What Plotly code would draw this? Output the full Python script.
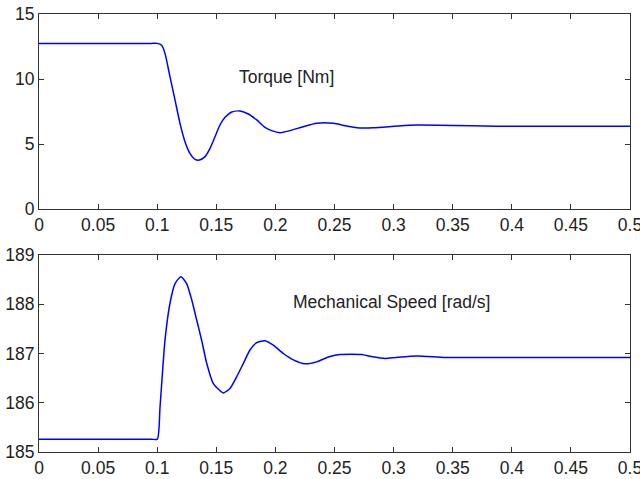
import plotly.graph_objects as go
from plotly.subplots import make_subplots

# torque response [Nm]
t_torque = [0, 0.05, 0.095, 0.1, 0.1038, 0.1066, 0.1108, 0.1151, 0.1193, 0.1235, 0.1277, 0.132,
            0.1357, 0.1404, 0.1447, 0.1489, 0.1531, 0.1574, 0.163, 0.1701, 0.1771,
            0.1842, 0.1912, 0.1968, 0.2039, 0.2123, 0.2236, 0.2349, 0.249, 0.2603,
            0.269, 0.283, 0.303, 0.3195, 0.4, 0.5]
torque = [12.74, 12.74, 12.74, 12.74, 12.6, 11.97, 10.18, 8.38, 6.59, 5.18, 4.28, 3.82,
          3.77, 4.03, 4.67, 5.56, 6.46, 7.05, 7.46, 7.54, 7.31,
          6.85, 6.28, 6.03, 5.87, 6.03, 6.33, 6.59, 6.59, 6.38,
          6.25, 6.25, 6.38, 6.46, 6.36, 6.36]

# mechanical speed [rad/s]
t_speed = [0, 0.05, 0.095, 0.1001, 0.1024, 0.1066, 0.1108, 0.1151, 0.1201, 0.1249, 0.1292,
           0.1334, 0.1376, 0.1419, 0.1475, 0.1559, 0.1616, 0.1673, 0.1729,
           0.1785, 0.1842, 0.1912, 0.1982, 0.2067, 0.2152, 0.225, 0.2349,
           0.2462, 0.2547, 0.273, 0.281, 0.293, 0.302, 0.32, 0.344, 0.4, 0.5]
speed = [185.26, 185.26, 185.26, 185.26, 185.92, 187.27, 188.02, 188.42, 188.56, 188.42, 188.09,
         187.68, 187.27, 186.80, 186.39, 186.20, 186.29, 186.53, 186.80,
         187.07, 187.22, 187.26, 187.17, 187.00, 186.87, 186.79, 186.83,
         186.94, 186.98, 186.98, 186.94, 186.90, 186.92, 186.95, 186.92, 186.92, 186.92]

x_ticks = [0, 0.05, 0.1, 0.15, 0.2, 0.25, 0.3, 0.35, 0.4, 0.45, 0.5]
x_labels = ["0", "0.05", "0.1", "0.15", "0.2", "0.25", "0.3", "0.35", "0.4", "0.45", "0.5"]

font = dict(family="Liberation Sans, Arial", size=17.5, color="#222222")

fig = make_subplots(rows=2, cols=1)
line = dict(color="#0000ff", width=1.5, shape="spline", smoothing=0.6)
fig.add_trace(go.Scatter(x=t_torque, y=torque, mode="lines", line=line), row=1, col=1)
fig.add_trace(go.Scatter(x=t_speed, y=speed, mode="lines", line=line), row=2, col=1)

axis_style = dict(showline=True, linecolor="#333333", linewidth=1, mirror="ticks",
                  ticks="inside", ticklen=5, tickcolor="#333333", showgrid=False,
                  zeroline=False, tickfont=font, automargin=False)
fig.update_xaxes(range=[0, 0.5], tickvals=x_ticks, ticktext=x_labels,
                 ticklabeloverflow="allow", **axis_style)
fig.update_yaxes(**axis_style)
fig.update_yaxes(range=[0, 15], tickvals=[0, 5, 10, 15], domain=[0.5548, 1], row=1, col=1)
fig.update_yaxes(range=[185, 189], tickvals=[185, 186, 187, 188, 189], domain=[0, 0.4498], row=2, col=1)

fig.add_annotation(x=0.1675, y=10.18, xref="x", yref="y", text="Torque [Nm]",
                   showarrow=False, xanchor="left", yanchor="middle", font=font)
fig.add_annotation(x=0.2132, y=188.05, xref="x2", yref="y2", text="Mechanical Speed [rad/s]",
                   showarrow=False, xanchor="left", yanchor="middle", font=font)

fig.update_layout(width=640, height=479, showlegend=False,
                  margin=dict(l=39, r=10, t=14, b=27),
                  paper_bgcolor="white", plot_bgcolor="white")
# page body has a default 8px margin; drop it so the figure sits at the corner
fig.write_html("out.html", config={"displayModeBar": False},
               post_script="document.body.style.margin='0';")
